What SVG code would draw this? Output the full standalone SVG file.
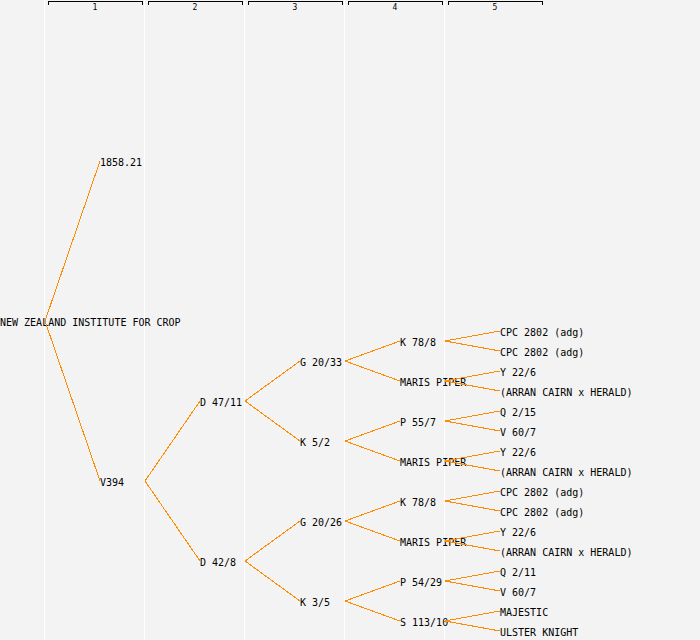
<svg xmlns="http://www.w3.org/2000/svg" width="700" height="640" viewBox="0 0 700 640">
<style>
.bg{fill:#f3f3f3}
.col{stroke:#ffffff;stroke-width:1;shape-rendering:crispEdges}
.hdr{fill:none;stroke:#000;stroke-width:1;shape-rendering:crispEdges}
.hn{font-family:"DejaVu Sans Mono","Liberation Mono",monospace;font-size:8px;fill:#000;text-anchor:middle}
.t{font-family:"DejaVu Sans Mono","Liberation Mono",monospace;font-size:10px;fill:#000}
.c line{stroke:#ff8c00;stroke-width:1;shape-rendering:crispEdges}
</style>
<rect class="bg" x="0" y="0" width="700" height="640"/>
<g id="columns">
<line class="col" x1="44.5" y1="0" x2="44.5" y2="640"/>
<line class="col" x1="144.5" y1="0" x2="144.5" y2="640"/>
<line class="col" x1="244.5" y1="0" x2="244.5" y2="640"/>
<line class="col" x1="344.5" y1="0" x2="344.5" y2="640"/>
<line class="col" x1="444.5" y1="0" x2="444.5" y2="640"/>
</g>
<g id="header">
<path class="hdr" d="M48.5,4.5V1.5H142.5V4.5M148.5,4.5V1.5H242.5V4.5M248.5,4.5V1.5H342.5V4.5M348.5,4.5V1.5H442.5V4.5M448.5,4.5V1.5H542.5V4.5"/>
<text class="hn" x="95" y="10">1</text>
<text class="hn" x="195" y="10">2</text>
<text class="hn" x="295" y="10">3</text>
<text class="hn" x="395" y="10">4</text>
<text class="hn" x="495" y="10">5</text>
</g>
<g id="n-root"><text class="t" x="0" y="326">NEW ZEALAND INSTITUTE FOR CROP</text></g>
<g id="n-1858"><text class="t" x="100" y="166">1858.21</text></g>
<g id="n-v394"><text class="t" x="100" y="486">V394</text></g>
<g id="n-d4711"><text class="t" x="200" y="406">D 47/11</text></g>
<g id="n-d428"><text class="t" x="200" y="566">D 42/8</text></g>
<g id="n-g2033"><text class="t" x="300" y="366">G 20/33</text></g>
<g id="n-k52"><text class="t" x="300" y="446">K 5/2</text></g>
<g id="n-g2026"><text class="t" x="300" y="526">G 20/26</text></g>
<g id="n-k35"><text class="t" x="300" y="606">K 3/5</text></g>
<g id="n-k788a"><text class="t" x="400" y="346">K 78/8</text></g>
<g id="n-mpa"><text class="t" x="400" y="386">MARIS PIPER</text></g>
<g id="n-p557"><text class="t" x="400" y="426">P 55/7</text></g>
<g id="n-mpb"><text class="t" x="400" y="466">MARIS PIPER</text></g>
<g id="n-k788b"><text class="t" x="400" y="506">K 78/8</text></g>
<g id="n-mpc"><text class="t" x="400" y="546">MARIS PIPER</text></g>
<g id="n-p5429"><text class="t" x="400" y="586">P 54/29</text></g>
<g id="n-s11310"><text class="t" x="400" y="626">S 113/10</text></g>
<g id="n-l5-1"><text class="t" x="500" y="336">CPC 2802 (adg)</text></g>
<g id="n-l5-2"><text class="t" x="500" y="356">CPC 2802 (adg)</text></g>
<g id="n-l5-3"><text class="t" x="500" y="376">Y 22/6</text></g>
<g id="n-l5-4"><text class="t" x="500" y="396">(ARRAN CAIRN x HERALD)</text></g>
<g id="n-l5-5"><text class="t" x="500" y="416">Q 2/15</text></g>
<g id="n-l5-6"><text class="t" x="500" y="436">V 60/7</text></g>
<g id="n-l5-7"><text class="t" x="500" y="456">Y 22/6</text></g>
<g id="n-l5-8"><text class="t" x="500" y="476">(ARRAN CAIRN x HERALD)</text></g>
<g id="n-l5-9"><text class="t" x="500" y="496">CPC 2802 (adg)</text></g>
<g id="n-l5-10"><text class="t" x="500" y="516">CPC 2802 (adg)</text></g>
<g id="n-l5-11"><text class="t" x="500" y="536">Y 22/6</text></g>
<g id="n-l5-12"><text class="t" x="500" y="556">(ARRAN CAIRN x HERALD)</text></g>
<g id="n-l5-13"><text class="t" x="500" y="576">Q 2/11</text></g>
<g id="n-l5-14"><text class="t" x="500" y="596">V 60/7</text></g>
<g id="n-l5-15"><text class="t" x="500" y="616">MAJESTIC</text></g>
<g id="n-l5-16"><text class="t" x="500" y="636">ULSTER KNIGHT</text></g>
<g id="connectors" class="c">
<line x1="45" y1="321" x2="100" y2="161"/>
<line x1="45" y1="321" x2="100" y2="481"/>
<line x1="145" y1="481" x2="200" y2="401"/>
<line x1="145" y1="481" x2="200" y2="561"/>
<line x1="245" y1="401" x2="300" y2="361"/>
<line x1="245" y1="401" x2="300" y2="441"/>
<line x1="245" y1="561" x2="300" y2="521"/>
<line x1="245" y1="561" x2="300" y2="601"/>
<line x1="345" y1="361" x2="400" y2="341"/>
<line x1="345" y1="361" x2="400" y2="381"/>
<line x1="345" y1="441" x2="400" y2="421"/>
<line x1="345" y1="441" x2="400" y2="461"/>
<line x1="345" y1="521" x2="400" y2="501"/>
<line x1="345" y1="521" x2="400" y2="541"/>
<line x1="345" y1="601" x2="400" y2="581"/>
<line x1="345" y1="601" x2="400" y2="621"/>
<line x1="445" y1="341" x2="500" y2="331"/>
<line x1="445" y1="341" x2="500" y2="351"/>
<line x1="445" y1="381" x2="500" y2="371"/>
<line x1="445" y1="381" x2="500" y2="391"/>
<line x1="445" y1="421" x2="500" y2="411"/>
<line x1="445" y1="421" x2="500" y2="431"/>
<line x1="445" y1="461" x2="500" y2="451"/>
<line x1="445" y1="461" x2="500" y2="471"/>
<line x1="445" y1="501" x2="500" y2="491"/>
<line x1="445" y1="501" x2="500" y2="511"/>
<line x1="445" y1="541" x2="500" y2="531"/>
<line x1="445" y1="541" x2="500" y2="551"/>
<line x1="445" y1="581" x2="500" y2="571"/>
<line x1="445" y1="581" x2="500" y2="591"/>
<line x1="445" y1="621" x2="500" y2="611"/>
<line x1="445" y1="621" x2="500" y2="631"/>
</g>
</svg>
